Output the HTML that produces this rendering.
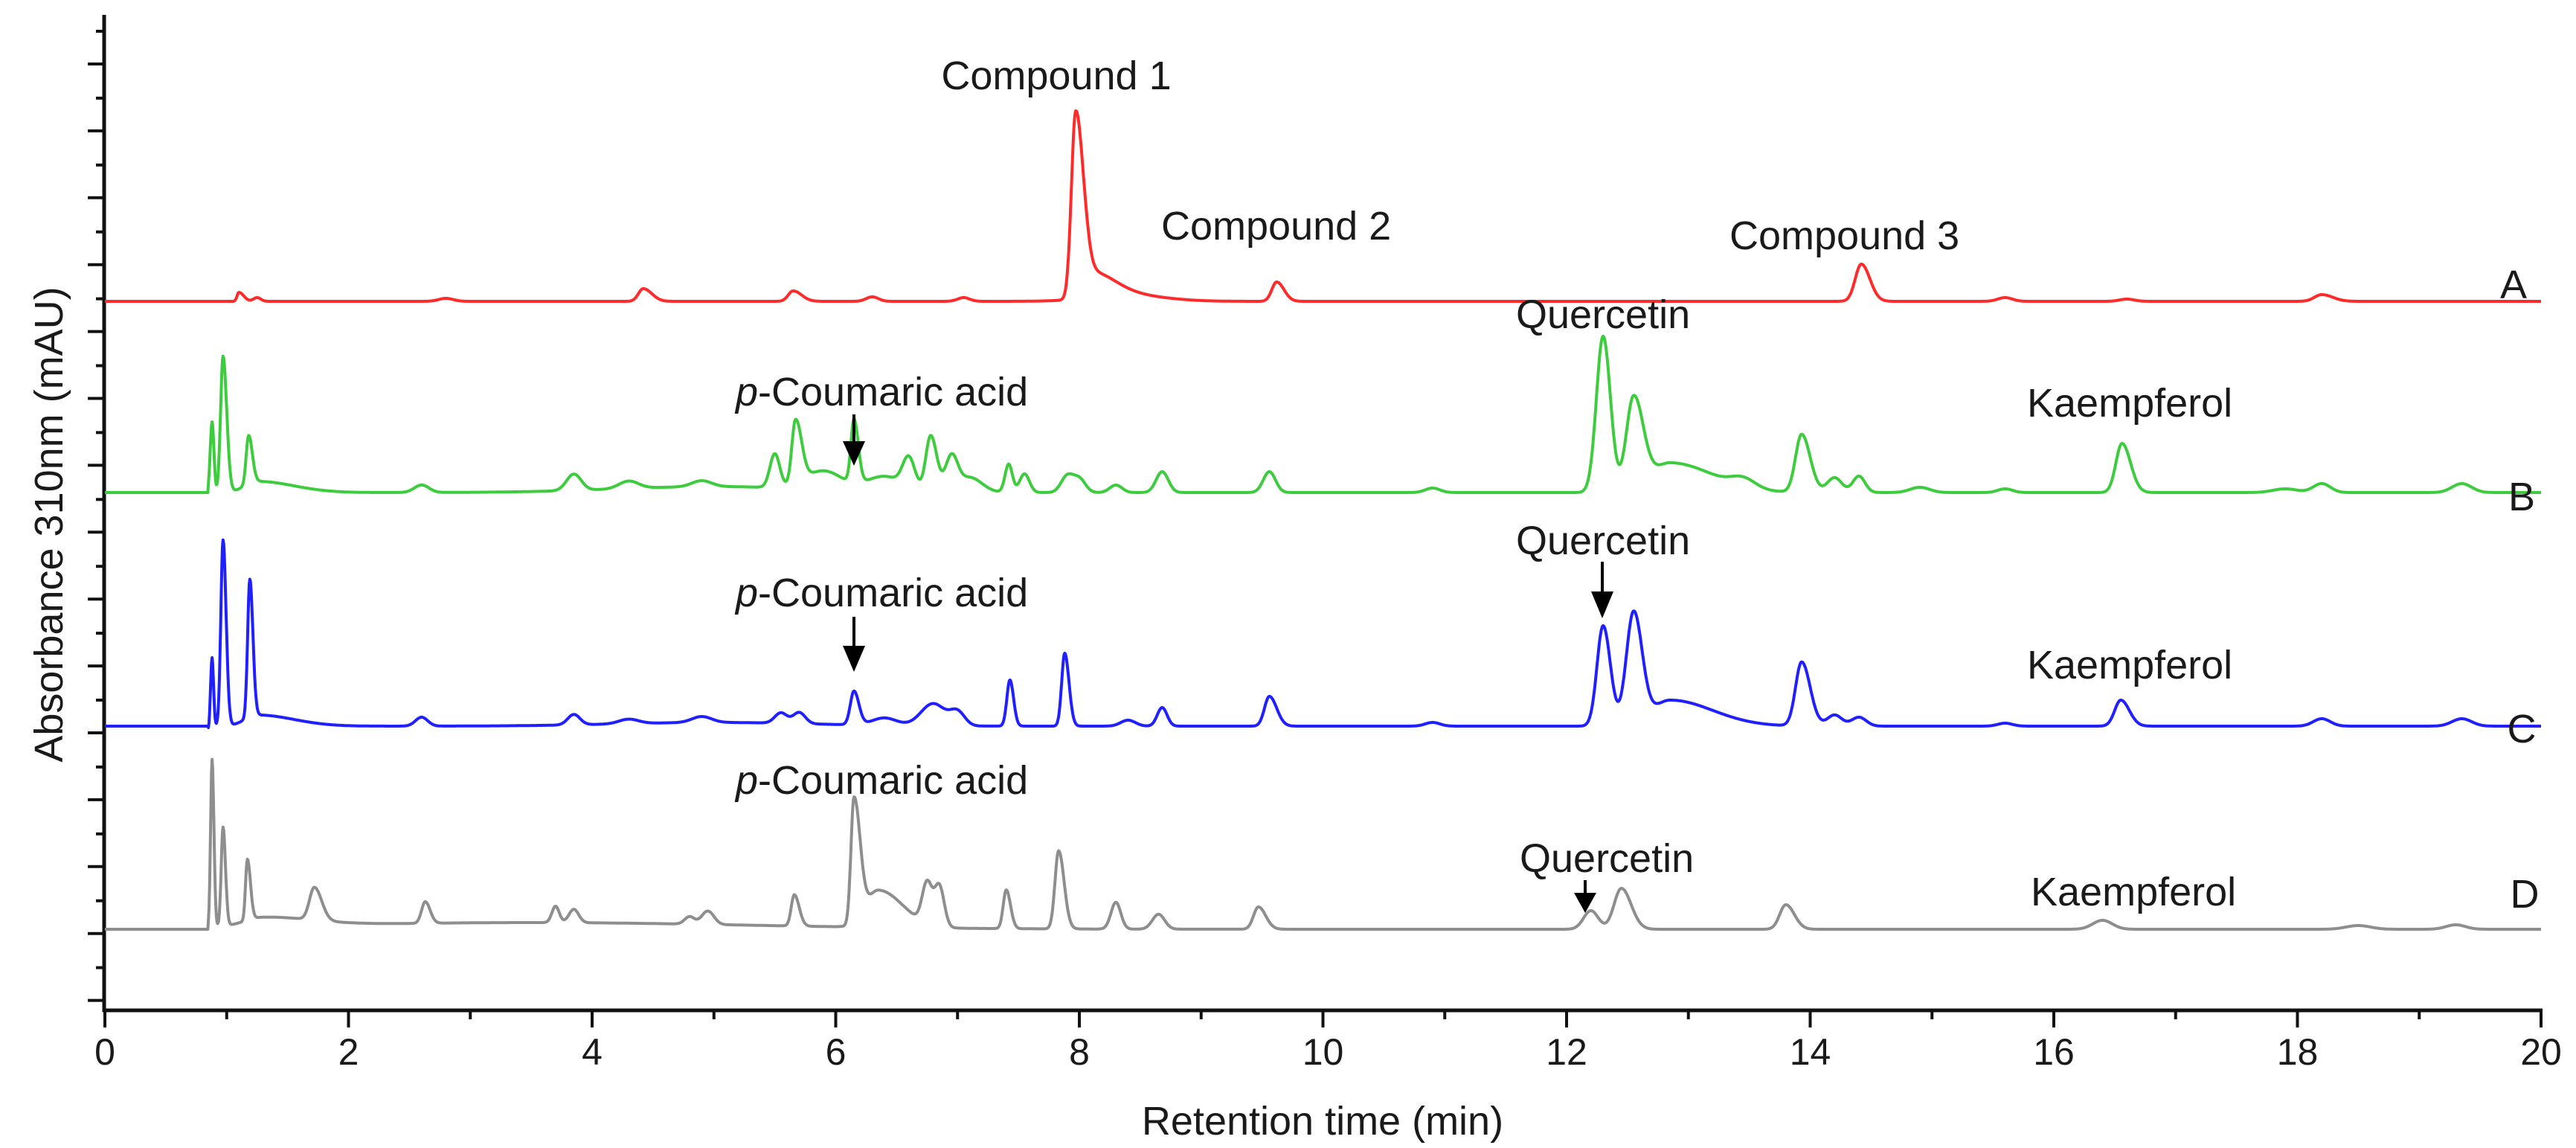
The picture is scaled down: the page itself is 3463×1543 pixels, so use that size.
<!DOCTYPE html>
<html><head><meta charset="utf-8"><style>
html,body{margin:0;padding:0;background:#fff;}
svg{display:block;}
text{font-family:"Liberation Sans",Arial,sans-serif;font-size:54px;fill:#1a1a1a;}
.tk{font-size:50px;}
</style></head><body>
<svg id="s" width="3463" height="1543" viewBox="0 0 3463 1543" xmlns="http://www.w3.org/2000/svg">
<g id="ticks" stroke="#111" stroke-width="4"></g>
<line x1="140" y1="20" x2="140" y2="1360" stroke="#111" stroke-width="5"/>
<line x1="138" y1="1358" x2="3418" y2="1358" stroke="#111" stroke-width="5"/>
<path id="pA" fill="none" stroke="#ff2a2a" stroke-width="4" stroke-linejoin="round"/>
<path id="pB" fill="none" stroke="#3dcc3d" stroke-width="4" stroke-linejoin="round"/>
<path id="pC" fill="none" stroke="#2020ff" stroke-width="4" stroke-linejoin="round"/>
<path id="pD" fill="none" stroke="#8e8e8e" stroke-width="4" stroke-linejoin="round"/>
<g stroke="#000" stroke-width="4">
<line x1="1148" y1="557" x2="1148" y2="600"/>
<line x1="1148" y1="829" x2="1148" y2="875"/>
<line x1="2154" y1="755" x2="2154" y2="800"/>
<line x1="2131" y1="1183" x2="2131" y2="1205"/>
</g>
<g fill="#000">
<polygon points="1133,593 1163,593 1148,626"/>
<polygon points="1133,868 1163,868 1148,903"/>
<polygon points="2139,795 2169,795 2154,831"/>
<polygon points="2116,1200 2146,1200 2131,1227"/>
</g>
<text x="1420" y="120" text-anchor="middle">Compound 1</text>
<text x="1561" y="322">Compound 2</text>
<text x="2325" y="335">Compound 3</text>
<text x="3379" y="401" text-anchor="middle">A</text>
<text x="2038" y="441">Quercetin</text>
<text x="989" y="545"><tspan font-style="italic">p</tspan>-Coumaric acid</text>
<text x="2725" y="560">Kaempferol</text>
<text x="3390" y="686" text-anchor="middle">B</text>
<text x="2038" y="745">Quercetin</text>
<text x="989" y="815"><tspan font-style="italic">p</tspan>-Coumaric acid</text>
<text x="2725" y="912">Kaempferol</text>
<text x="3390" y="998" text-anchor="middle">C</text>
<text x="989" y="1067"><tspan font-style="italic">p</tspan>-Coumaric acid</text>
<text x="2043" y="1172">Quercetin</text>
<text x="2730" y="1217">Kaempferol</text>
<text x="3394" y="1220" text-anchor="middle">D</text>
<g class="tk" text-anchor="middle">
<text class="tk" x="141" y="1431">0</text>
<text class="tk" x="468.5" y="1431">2</text>
<text class="tk" x="796" y="1431">4</text>
<text class="tk" x="1123.5" y="1431">6</text>
<text class="tk" x="1451" y="1431">8</text>
<text class="tk" x="1778.5" y="1431">10</text>
<text class="tk" x="2106" y="1431">12</text>
<text class="tk" x="2433.5" y="1431">14</text>
<text class="tk" x="2761" y="1431">16</text>
<text class="tk" x="3088.5" y="1431">18</text>
<text class="tk" x="3416" y="1431">20</text>
</g>
<text x="1778" y="1525" text-anchor="middle">Retention time (min)</text>
<text x="0" y="0" text-anchor="middle" transform="translate(84,705) rotate(-90)">Absorbance 310nm (mAU)</text>
</svg>
<script>
var X=function(t){return 141+163.75*t;};
var tk=document.getElementById('ticks'),h='';
for(var k=0;k<15;k++){var y=86+89.9*k;h+='<line x1="118" y1="'+y+'" x2="140" y2="'+y+'"/>';var y2=42+89.9*k;h+='<line x1="129" y1="'+y2+'" x2="140" y2="'+y2+'"/>';}
for(var m=0;m<=20;m++){var x=X(m);h+='<line x1="'+x+'" y1="1358" x2="'+x+'" y2="'+(m%2?1370:1381)+'"/>';}
tk.innerHTML=h;
function tr(id,base,pk,start){
 var d='';
 for(var i=0;i<=4000;i++){var t=i*0.005,v=0;
  if(t>=start){for(var j=0;j<pk.length;j++){var p=pk[j],c=p[0],a=p[1],wl=p[2],wr=p[3]||p[2];var w=t<c?wl:wr;var z=(t-c)/w;if(Math.abs(z)<6)v+=a*Math.exp(-0.5*z*z);}}
  d+=(i?'L':'M')+X(t).toFixed(1)+' '+(base-v).toFixed(1);}
 document.getElementById(id).setAttribute('d',d);}
tr('pA',405,[[1.1,12,.015,.04],[1.25,5,.03],[2.8,4,.06],[4.42,17,.04,.07],[5.65,14,.04,.07],[6.3,6,.05],[7.05,5,.05],[7.97,250,.035,.06],[8.08,35,.05,.2],[8.4,8,.3],[9.62,26,.04,.06],[14.42,50,.05,.07],[15.6,5,.06],[16.6,3,.06],[18.2,9,.06,.09]],0);
tr('pB',662,[[0.88,95,.015],[0.97,183,.02,.03],[1.18,65,.02,.03],[1.25,15,.1,.3],[2.6,10,.06],[3.85,22,.06],[4.3,10,.08],[4.9,8,.08],[5.0,8,.8],[5.5,45,.04],[5.67,85,.03,.05],[5.9,25,.15],[6.15,85,.025,.035],[6.4,20,.15],[6.6,40,.05],[6.78,75,.04,.05],[6.95,45,.05],[7.1,20,.1],[7.42,38,.03],[7.55,25,.04],[7.9,22,.05],[8.0,18,.05],[8.3,10,.05],[8.68,28,.05],[9.56,28,.05],[10.9,6,.06],[12.3,210,.055,.06],[12.55,125,.06,.08],[12.85,40,.15,.35],[13.45,12,.1],[13.93,78,.05,.07],[14.2,20,.06],[14.4,22,.05],[14.9,7,.08],[15.6,5,.06],[16.56,66,.05,.07],[17.9,5,.1],[18.2,12,.07],[19.35,12,.08]],0.85);
tr('pC',976,[[0.85,-6,.01],[0.88,92,.012],[0.97,250,.018,.025],[1.19,185,.018,.025],[1.25,15,.1,.3],[2.6,12,.05],[3.85,14,.05],[4.3,6,.08],[4.9,8,.08],[5.0,5,.8],[5.55,14,.05],[5.7,15,.05],[6.15,45,.03,.04],[6.4,10,.1],[6.8,30,.1],[7.0,18,.06],[7.43,62,.025,.03],[7.88,98,.025,.035],[8.4,8,.06],[8.68,25,.04],[9.56,40,.04,.06],[10.9,5,.06],[12.3,135,.05,.06],[12.55,150,.06,.07],[12.85,35,.15,.35],[13.93,86,.05,.07],[14.2,15,.06],[14.4,12,.06],[15.6,4,.06],[16.55,35,.05,.07],[18.2,10,.07],[19.35,10,.08]],0.85);
tr('pD',1249,[[0.88,225,.012,.015],[0.97,133,.015,.02],[1.17,82,.015,.025],[1.3,12,.15,.4],[1.72,44,.04,.06],[2.63,29,.03,.04],[3.5,9,1.8],[3.7,22,.03],[3.85,18,.04],[4.8,10,.04],[4.95,18,.05],[5.66,42,.025,.04],[6.15,168,.025,.05],[6.35,50,.1,.2],[6.75,55,.04],[6.85,55,.04],[7.4,52,.025,.035],[7.83,105,.03,.045],[8.3,36,.04],[8.65,20,.05],[9.47,30,.04,.06],[12.2,25,.06],[12.45,55,.06,.08],[13.8,33,.05,.07],[16.4,12,.08],[18.5,5,.1],[19.3,6,.08]],0.85);
</script>
</body></html>
